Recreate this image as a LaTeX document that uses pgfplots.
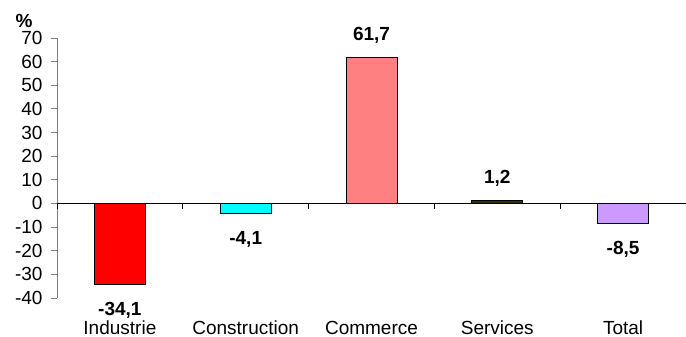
\documentclass[border=0pt]{standalone}
\usepackage{pgfplots}
\pgfplotsset{compat=1.18}
\usepackage{fontspec}
\setmainfont{Liberation Sans}
\definecolor{cInd}{HTML}{FF0000}
\definecolor{cCon}{HTML}{00FFFF}
\definecolor{cCom}{HTML}{FF8080}
\definecolor{cSer}{HTML}{333300}
\definecolor{cTot}{HTML}{CC99FF}
\definecolor{axgray}{HTML}{808080}

\pgfplotsset{
  pos label/.style={nodes near coords, every node near coord/.append style={anchor=base, yshift=17bp, font=\bfseries}},
  neg label/.style={nodes near coords, every node near coord/.append style={anchor=base, yshift=-31bp, font=\bfseries}},
}

\begin{document}
\fontsize{19bp}{22bp}\selectfont
\begin{tikzpicture}
\path[use as bounding box] (-57bp,-39bp) rectangle (629bp,298bp);
\begin{axis}[
  at={(0,0)}, anchor=south west,
  x=125.8bp, y=2.3636bp,
  xmin=-0.5, xmax=4.5, ymin=-40, ymax=70,
  axis x line=none,
  axis y line*=left,
  y axis line style={draw=axgray, line width=0.9pt, -},
  ytick={-40,-30,...,70},
  ytick pos=left,
  tick align=outside,
  major tick length=6bp,
  y tick style={draw=axgray, line width=0.9pt},
  yticklabel style={font=\fontsize{19bp}{22bp}\selectfont, xshift=-2bp},
  /pgf/number format/assume math mode=true,
  /pgf/number format/.cd, use comma, fixed, fixed zerofill, precision=1,
  /pgfplots/.cd,
  yticklabel={\pgfmathprintnumber[fixed, precision=0, fixed zerofill=false]{\tick}},
  clip=false,
]
\addplot[ybar, bar width=51bp, fill=cInd, draw=black, line width=0.9pt, neg label] coordinates {(0,-34.1)};
\addplot[ybar, bar width=51bp, fill=cCon, draw=black, line width=0.9pt, neg label] coordinates {(1,-4.1)};
\addplot[ybar, bar width=51bp, fill=cCom, draw=black, line width=0.9pt, pos label] coordinates {(2,61.7)};
\addplot[ybar, bar width=51bp, fill=cSer, draw=black, line width=0.9pt, pos label] coordinates {(3,1.2)};
\addplot[ybar, bar width=51bp, fill=cTot, draw=black, line width=0.9pt, neg label] coordinates {(4,-8.5)};

\draw[black, line width=1.2pt] (axis cs:-0.5,0) -- (axis cs:4.5,0);
\pgfplotsinvokeforeach{-0.5,0.5,1.5,2.5,3.5}{
  \draw[black, line width=0.9pt] (axis cs:#1,0) -- ([yshift=-6bp]axis cs:#1,0);
}
\node[anchor=base, inner sep=0pt] at (axis cs:0,-40) [yshift=-36bp] {Industrie};
\node[anchor=base, inner sep=0pt] at (axis cs:1,-40) [yshift=-36bp] {Construction};
\node[anchor=base, inner sep=0pt] at (axis cs:2,-40) [yshift=-36bp] {Commerce};
\node[anchor=base, inner sep=0pt] at (axis cs:3,-40) [yshift=-36bp] {Services};
\node[anchor=base, inner sep=0pt] at (axis cs:4,-40) [yshift=-36bp] {Total};
\end{axis}
\node[anchor=base, font=\bfseries] at (-33bp,270bp) {\%};
\end{tikzpicture}
\end{document}
